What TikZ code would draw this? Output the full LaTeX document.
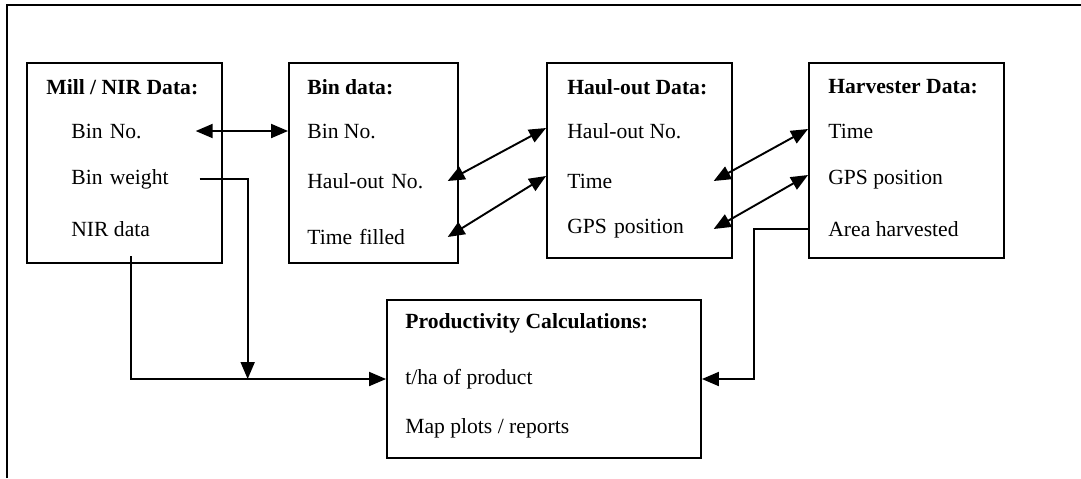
\documentclass[tikz,border=0pt]{standalone}
\usepackage{fontspec}
\setmainfont{Liberation Serif}
\usetikzlibrary{arrows.meta}

\newcommand{\diagfont}{\fontsize{12.3}{14}\selectfont}

\tikzset{
  databox/.style={draw, line width=1.1pt, minimum width=#1, inner sep=0pt},
  item/.style={anchor=west, inner sep=0pt, align=left},
  head/.style={anchor=west, inner sep=0pt, font=\diagfont\bfseries},
  link/.style={line width=1.1pt, >={Triangle[length=0.34cm,width=0.28cm]}}
}

\begin{document}
\begin{tikzpicture}[x=0.02cm, y=-0.02cm, font=\diagfont]
\useasboundingbox (0,0) rectangle (1081,478);
% frame
\draw[line width=1.1pt] (7,478) -- (7,5) -- (1081,5);

% boxes
\node[databox=3.9cm, minimum height=4cm] (mill) at (124.5,163) {};
\node[databox=3.38cm, minimum height=4cm] (bin) at (373.5,163) {};
\node[databox=3.7cm, minimum height=3.9cm] (haul) at (639.5,160.5) {};
\node[databox=3.9cm, minimum height=3.9cm] (harv) at (906.5,160.5) {};
\node[databox=6.28cm, minimum height=3.16cm] (prod) at (544,379) {};

% Mill / NIR
\node[head] (milltitle) at (46,87) {Mill / NIR Data:};
\node[item, text width=2.48cm] (millbin) at (71,131) {Bin No.};
\node[item, text width=2.56cm] (millweight) at (71,179) {Bin weight};
\node[item] (millnir) at (71,229) {NIR data};

% Bin
\node[head] (bintitle) at (307,87) {Bin data:};
\node[item] (binno) at (307,131) {Bin No.};
\node[item, text width=2.8cm] (binhaul) at (307,181) {Haul-out No.};
\node[item, text width=2.8cm] (bintime) at (307,237) {Time filled};

% Haul-out
\node[head] (haultitle) at (567,87) {Haul-out Data:};
\node[item] (haulno) at (567,131) {Haul-out No.};
\node[item, text width=2.92cm] (haultime) at (567,181) {Time};
\node[item, text width=2.92cm] (haulgps) at (567,229) {GPS position};

% Harvester
\node[head] (harvtitle) at (828,87) {Harvester Data:};
\node[item] (harvtime) at (828,131) {Time};
\node[item] (harvgps) at (828,180) {GPS position};
\node[item] (harvarea) at (828,229) {Area harvested};

% Productivity
\node[head] (prodtitle) at (405,323) {Productivity Calculations:};
\node[item] (prodtha) at (405,379) {t/ha of product};
\node[item] (prodmap) at (405,428) {Map plots / reports};

\coordinate (nirout) at (131,256);

\draw[link, <->] (millbin.east) -- (bin.west |- millbin);
\draw[link, ->] (millweight.east) -- ++(48,0) coordinate (wt) -- (wt |- prodtha.west);
\draw[link, ->] (nirout) |- (prod.west |- prodtha);
\draw[link, <->] (binhaul.east) -- ([yshift=0.06cm]haul.west |- haulno);
\draw[link, <->] (bintime.east) -- ([yshift=0.1cm]haul.west |- haultime);
\draw[link, <->] (haultime.east) -- ([yshift=0.04cm]harv.west |- harvtime);
\draw[link, <->] (haulgps.east) -- ([yshift=0.1cm]harv.west |- harvgps);
\draw[link, ->] (harv.west |- harvarea) -- ++(-54,0) |- (prod.east |- prodtha);
\end{tikzpicture}
\end{document}
